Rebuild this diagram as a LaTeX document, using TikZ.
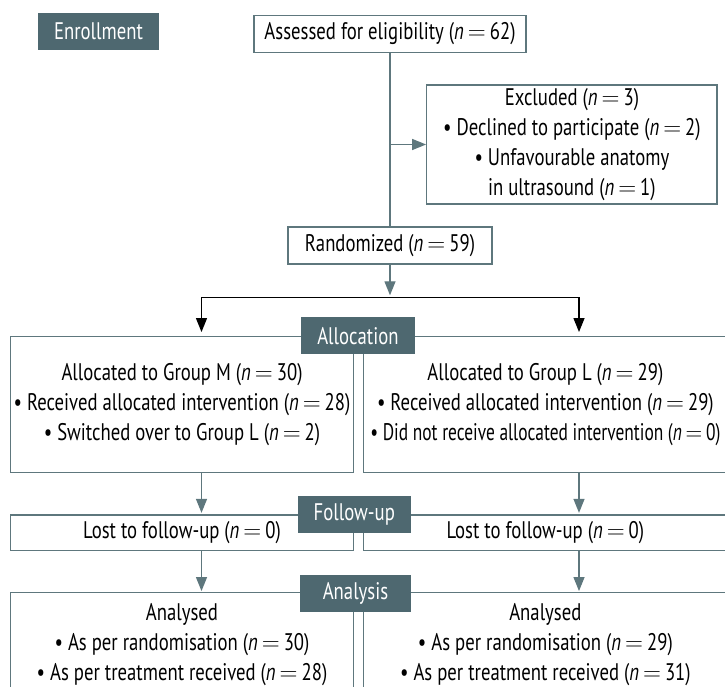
\documentclass[tikz,border=0pt]{standalone}
\usepackage{fontspec}
\usepackage{graphicx}
\setmainfont[FakeStretch=0.78]{PT Sans}
\usetikzlibrary{arrows.meta}
\definecolor{slate}{HTML}{4E6870}
\definecolor{edge}{HTML}{5E777D}
\newcommand{\nval}[1]{(\textit{n}\,$=$\,#1)}

\begin{document}
\begin{tikzpicture}[x=1pt,y=-1pt,
  box/.style={draw=edge, line width=1.3pt, inner sep=0pt, align=center,
    font=\fontsize{24}{30}\selectfont},
  tag/.style={fill=slate, text=white, inner sep=0pt,
    font=\fontsize{24}{28}\selectfont},
  flow/.style={draw=edge, line width=1.3pt, -{Triangle[length=14pt,width=11pt]}},
  split/.style={draw=black, line width=1.3pt, -{Triangle[length=14pt,width=11pt]}}]
\useasboundingbox (0,0) rectangle (725,687);

\node[box, minimum width=272pt, minimum height=36.6pt] (assess) at (390,34)
  {Assessed for eligibility \nval{62}};
\node[box, minimum width=290.3pt, minimum height=119pt] (excl) at (571.9,144.5)
  {Excluded \nval{3}\\ \textbullet\ Declined to participate \nval{2}\\
   \textbullet\ Unfavourable anatomy\\ in ultrasound \nval{1}};
\node[box, minimum width=204pt, minimum height=37pt] (rand) at (390,245.5)
  {Randomized \nval{59}};
\coordinate (split) at (390,297.3);

\node[box, minimum width=342.6pt, minimum height=135.6pt] (allocM) at (182,404.5)
  {Allocated to Group M \nval{30}\\ \textbullet\ Received allocated intervention \nval{28}\\
   \textbullet\ Switched over to Group L \nval{2}};
\node[box, minimum width=363.3pt, minimum height=135.6pt] (allocL) at (545.35,404.5)
  {Allocated to Group L \nval{29}\\ \textbullet\ Received allocated intervention \nval{29}\\
   \scalebox{0.93}[1]{\textbullet\ Did not receive allocated intervention \nval{0}}};
\node[box, minimum width=342.6pt, minimum height=35.7pt] (lostM) at (182,532.85)
  {Lost to follow-up \nval{0}};
\node[box, minimum width=363.3pt, minimum height=35.7pt] (lostL) at (545.35,532.85)
  {Lost to follow-up \nval{0}};
\node[box, minimum width=342.6pt, minimum height=104.3pt] (anaM) at (182,644.85)
  {Analysed\\ \textbullet\ As per randomisation \nval{30}\\
   \textbullet\ As per treatment received \nval{28}};
\node[box, minimum width=363.3pt, minimum height=104.3pt] (anaL) at (545.35,644.85)
  {Analysed\\ \textbullet\ As per randomisation \nval{29}\\
   \textbullet\ As per treatment received \nval{31}};

\coordinate (colM) at (201.5,0);
\coordinate (colL) at (579,0);

\draw[edge, line width=1.3pt] (assess.south) -- (rand.north);
\draw[flow] (assess.south |- excl.west) -- (excl.west);
\draw[flow, shorten >=2pt] (rand.south) -- (split);
\draw[split, shorten >=4pt] (split) -| (allocM.north -| colM);
\draw[split, shorten >=4pt] (split) -| (allocL.north -| colL);
\draw[flow, shorten >=1.5pt] (allocM.south -| colM) -- (lostM.north -| colM);
\draw[flow, shorten >=1.5pt] (allocL.south -| colL) -- (lostL.north -| colL);
\draw[flow, shorten >=1pt] (lostM.south -| colM) -- (anaM.north -| colM);
\draw[flow, shorten >=1pt] (lostL.south -| colL) -- (anaL.north -| colL);

\node[tag, minimum width=121pt, minimum height=37pt] (enroll) at (98.5,31.5) {Enrollment};
\node[tag, minimum width=113.7pt, minimum height=36.7pt] (alloc) at (357.9,335.7) {Allocation};
\node[tag, minimum width=113.3pt, minimum height=36.7pt] (follow) at (354.3,514.3) {Follow-up};
\node[tag, minimum width=111pt, minimum height=36.7pt] (analysis) at (355.5,593.3) {Analysis};
\end{tikzpicture}
\end{document}
